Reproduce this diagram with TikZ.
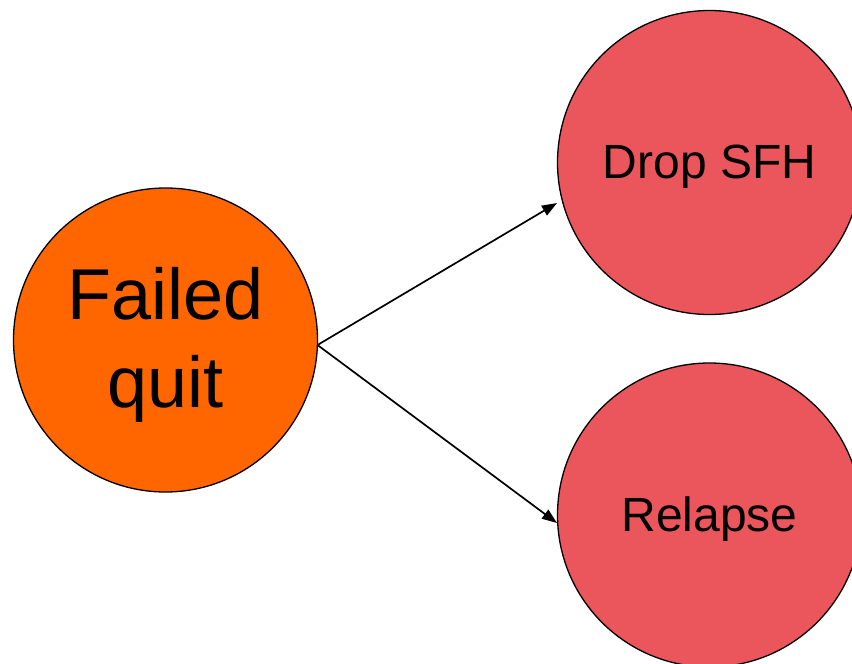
\documentclass[tikz,border=0pt]{standalone}
\usepackage{fontspec}
\setmainfont{Liberation Sans}
\usetikzlibrary{arrows.meta}
\definecolor{orangefill}{RGB}{255,102,0}
\definecolor{redfill}{RGB}{235,85,92}
\begin{document}
\begin{tikzpicture}[x=1pt,y=-1pt,
  bubble/.style={circle,draw=black,line width=1.3pt,minimum size=304pt,inner sep=0pt},
  label text/.style={align=center,inner sep=0pt},
  link/.style={line width=1.7pt,-{Triangle[length=15pt,width=11pt]}}]
\useasboundingbox (0,0) rectangle (852,664);
\begin{scope}
\clip (0,0) rectangle (852,664);
\node[bubble,fill=orangefill] (fq) at (165.5,340) {};
\node[bubble,fill=redfill] (drop) at (709.5,162.5) {};
\node[bubble,fill=redfill] (rel) at (709.5,515) {};
\end{scope}
\node[label text,font=\fontsize{72}{88}\selectfont] (fqtext) at ([yshift=-5pt]fq.center) {Failed\\quit};
\node[label text,font=\fontsize{48}{58}\selectfont] (droptext) at ([yshift=-4pt]drop.center) {Drop SFH};
\node[label text,font=\fontsize{48}{58}\selectfont] (reltext) at ([yshift=-4pt]rel.center) {Relapse};
\coordinate (start) at (317.5,345);
\coordinate (dropend) at (557,203);
\coordinate (relend) at (557,523);
\draw[link] (start) -- (dropend);
\draw[link] (start) -- (relend);
\end{tikzpicture}
\end{document}
